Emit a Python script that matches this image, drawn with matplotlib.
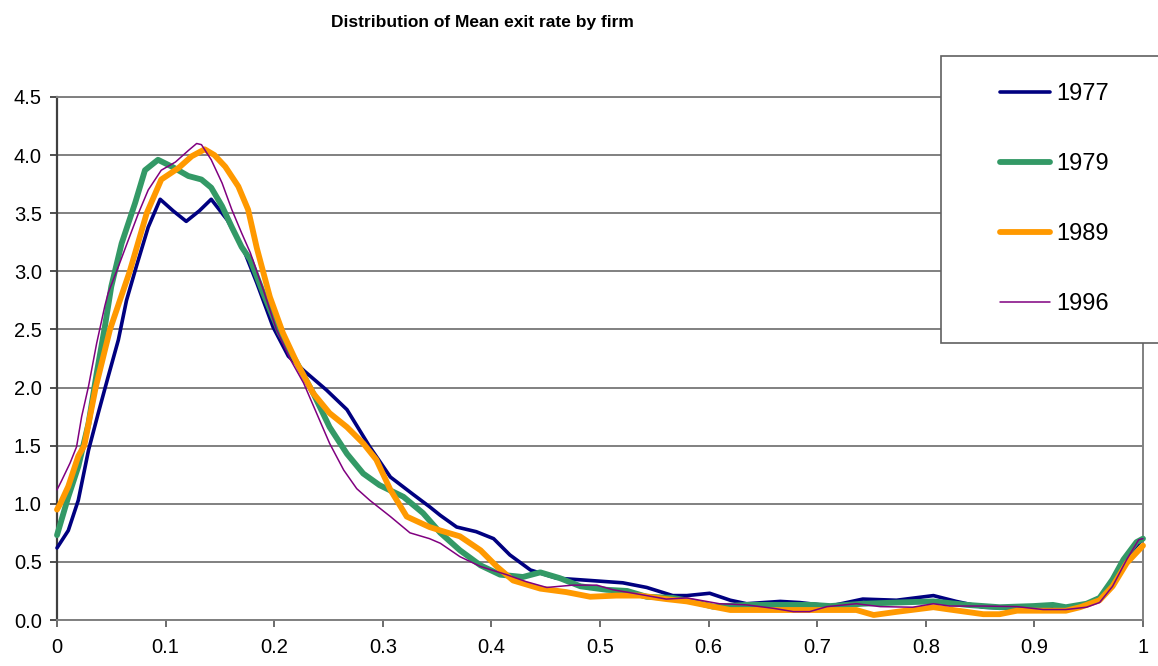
import matplotlib
matplotlib.use("Agg")
import matplotlib.pyplot as plt
from matplotlib.patches import Rectangle

# ---- data ----
x_1977 = [0, 0.0104, 0.0196, 0.029, 0.038, 0.047, 0.0565, 0.064, 0.073, 0.084, 0.095, 0.107, 0.119, 0.131,
          0.142, 0.157, 0.173, 0.184, 0.199, 0.213, 0.228, 0.248, 0.267, 0.288, 0.307, 0.328, 0.343, 0.353,
          0.368, 0.386, 0.402, 0.417, 0.436, 0.46, 0.491, 0.521, 0.543, 0.567, 0.58, 0.601, 0.62, 0.635,
          0.666, 0.684, 0.712, 0.742, 0.773, 0.807, 0.828, 0.853, 0.88, 0.91, 0.94, 0.96, 0.972, 0.985, 1.0]
y_1977 = [0.62, 0.77, 1.03, 1.46, 1.78, 2.09, 2.41, 2.75, 3.04, 3.38, 3.62, 3.52, 3.43, 3.52,
          3.62, 3.44, 3.16, 2.90, 2.52, 2.27, 2.14, 1.98, 1.81, 1.49, 1.23, 1.08, 0.975, 0.90,
          0.80, 0.76, 0.70, 0.56, 0.43, 0.36, 0.34, 0.32, 0.28, 0.21, 0.21, 0.23, 0.17, 0.14,
          0.16, 0.15, 0.12, 0.18, 0.17, 0.21, 0.16, 0.11, 0.10, 0.10, 0.11, 0.17, 0.32, 0.545, 0.70]

x_1979 = [0, 0.0104, 0.0196, 0.029, 0.0365, 0.044, 0.050, 0.0595, 0.072, 0.081, 0.093, 0.106, 0.121, 0.133,
          0.142, 0.152, 0.161, 0.170, 0.178, 0.19, 0.205, 0.221, 0.236, 0.251, 0.267, 0.282, 0.297, 0.319,
          0.337, 0.353, 0.371, 0.39, 0.408, 0.429, 0.445, 0.463, 0.482, 0.506, 0.525, 0.543, 0.567, 0.585,
          0.604, 0.635, 0.666, 0.696, 0.712, 0.742, 0.773, 0.807, 0.838, 0.868, 0.899, 0.917, 0.929, 0.948,
          0.96, 0.972, 0.982, 0.994, 1.0]
y_1979 = [0.73, 1.06, 1.32, 1.69, 2.12, 2.52, 2.87, 3.24, 3.59, 3.87, 3.96, 3.90, 3.82, 3.79,
          3.72, 3.56, 3.38, 3.21, 3.10, 2.81, 2.47, 2.21, 1.95, 1.66, 1.43, 1.26, 1.16, 1.06,
          0.92, 0.75, 0.60, 0.47, 0.39, 0.37, 0.41, 0.36, 0.29, 0.26, 0.25, 0.20, 0.19, 0.16,
          0.115, 0.13, 0.13, 0.13, 0.12, 0.14, 0.15, 0.16, 0.13, 0.11, 0.12, 0.13, 0.11, 0.14,
          0.19, 0.35, 0.52, 0.67, 0.70]

x_1989 = [0, 0.003, 0.0104, 0.0196, 0.0251, 0.0356, 0.0488, 0.067, 0.0826, 0.096, 0.112, 0.124, 0.136,
          0.145, 0.155, 0.167, 0.176, 0.184, 0.196, 0.208, 0.221, 0.236, 0.251, 0.267, 0.282, 0.294, 0.307,
          0.322, 0.343, 0.353, 0.371, 0.39, 0.405, 0.42, 0.445, 0.469, 0.491, 0.515, 0.537, 0.561, 0.58,
          0.604, 0.62, 0.65, 0.681, 0.712, 0.736, 0.752, 0.773, 0.807, 0.822, 0.853, 0.868, 0.884, 0.914,
          0.929, 0.942, 0.96, 0.972, 0.985, 1.0]
y_1989 = [0.95, 1.0, 1.15, 1.41, 1.5, 2.0, 2.5, 3.0, 3.5, 3.79, 3.89, 3.99, 4.05,
          4.0, 3.90, 3.73, 3.53, 3.20, 2.78, 2.47, 2.21, 1.95, 1.78, 1.66, 1.52, 1.38, 1.12,
          0.89, 0.80, 0.77, 0.72, 0.60, 0.46, 0.34, 0.27, 0.24, 0.20, 0.21, 0.21, 0.18, 0.16,
          0.115, 0.086, 0.086, 0.086, 0.086, 0.086, 0.043, 0.07, 0.11, 0.09, 0.05, 0.05, 0.08, 0.08,
          0.08, 0.11, 0.17, 0.29, 0.49, 0.64]

x_1996 = [0, 0.0043, 0.012, 0.018, 0.0227, 0.029, 0.0365, 0.044, 0.047, 0.0565, 0.0657, 0.075, 0.084,
          0.096, 0.109, 0.121, 0.1286, 0.133, 0.142, 0.152, 0.161, 0.17, 0.178, 0.19, 0.202, 0.215, 0.227,
          0.239, 0.251, 0.264, 0.276, 0.288, 0.307, 0.325, 0.343, 0.353, 0.371, 0.39, 0.414, 0.432, 0.451,
          0.475, 0.497, 0.512, 0.537, 0.561, 0.58, 0.592, 0.61, 0.635, 0.66, 0.678, 0.693, 0.709, 0.736,
          0.758, 0.788, 0.807, 0.822, 0.853, 0.884, 0.908, 0.929, 0.948, 0.96, 0.972, 0.985, 0.996, 1.0]
y_1996 = [1.12, 1.20, 1.35, 1.49, 1.75, 2.01, 2.38, 2.70, 2.81, 3.04, 3.27, 3.50, 3.70,
          3.87, 3.94, 4.04, 4.10, 4.09, 3.96, 3.76, 3.53, 3.33, 3.16, 2.84, 2.50, 2.24, 2.04,
          1.78, 1.52, 1.29, 1.13, 1.03, 0.89, 0.75, 0.70, 0.66, 0.545, 0.46, 0.39, 0.33, 0.28,
          0.30, 0.30, 0.26, 0.22, 0.18, 0.19, 0.17, 0.14, 0.13, 0.10, 0.072, 0.072, 0.115, 0.14,
          0.115, 0.11, 0.14, 0.12, 0.12, 0.115, 0.09, 0.09, 0.11, 0.15, 0.29, 0.52, 0.69, 0.70]

series_labels = ["1977", "1979", "1989", "1996"]
x_ticks = [0, 0.1, 0.2, 0.3, 0.4, 0.5, 0.6, 0.7, 0.8, 0.9, 1]
x_tick_labels = ["0", "0.1", "0.2", "0.3", "0.4", "0.5", "0.6", "0.7", "0.8", "0.9", "1"]
y_ticks = [0.0, 0.5, 1.0, 1.5, 2.0, 2.5, 3.0, 3.5, 4.0, 4.5]
y_tick_labels = ["0.0", "0.5", "1.0", "1.5", "2.0", "2.5", "3.0", "3.5", "4.0", "4.5"]
title = "Distribution of Mean exit rate by firm"

# ---- figure ----
plt.rcParams['font.family'] = ['Liberation Sans', 'DejaVu Sans']
W, H = 1158, 666
fig = plt.figure(figsize=(W / 100, H / 100), dpi=100)
ax = fig.add_axes([57 / W, (H - 620) / H, (1143 - 57) / W, (620 - 97) / H])

colors = ["#000080", "#339966", "#FF9900", "#800080"]
widths = [2.6, 4.2, 4.2, 1.1]
xs = [x_1977, x_1979, x_1989, x_1996]
ys = [y_1977, y_1979, y_1989, y_1996]
lines = []
for xv, yv, c, w, lab in zip(xs, ys, colors, widths, series_labels):
    ln, = ax.plot(xv, yv, color=c, lw=w, label=lab, solid_capstyle='round', solid_joinstyle='round',
                  clip_on=False, zorder=3)
    lines.append(ln)

ax.set_xlim(0, 1)
ax.set_ylim(0, 4.5)
ax.set_xticks(x_ticks)
ax.set_xticklabels(x_tick_labels)
ax.set_yticks(y_ticks)
ax.set_yticklabels(y_tick_labels)
ax.tick_params(axis='both', labelsize=14.5, colors='#000000', length=5, width=1.3, direction='out')
ax.tick_params(axis='x', pad=8, color='#606060')
ax.tick_params(axis='y', pad=6, color='#404040')
ax.yaxis.grid(True, color='#808080', lw=1.4, zorder=1)
ax.set_axisbelow(True)
for side in ['top', 'right', 'bottom']:
    ax.spines[side].set_color('#808080')
    ax.spines[side].set_linewidth(1.4)
ax.spines['left'].set_color('#404040')
ax.spines['left'].set_linewidth(1.6)

fig.text(482 / W, 1 - 22 / H, title, ha='center', va='center', fontsize=12.5, fontweight='bold')

# legend box (extends to the figure edge)
rect = Rectangle((941 / W, 1 - 343 / H), (W + 10 - 941) / W, (343 - 56) / H,
                 transform=fig.transFigure, facecolor='white', edgecolor='#606060', lw=1.2,
                 zorder=5, clip_on=False)
fig.patches.append(rect)
leg = fig.legend(handles=lines, labels=series_labels, loc='upper left',
                 bbox_to_anchor=(1000 / W, 1 - 83 / H), frameon=False, fontsize=17,
                 handlelength=2.1, handletextpad=0.3, labelspacing=2.03, borderaxespad=0,
                 borderpad=0)
leg.set_zorder(6)

fig.savefig("out.png", dpi=100)
